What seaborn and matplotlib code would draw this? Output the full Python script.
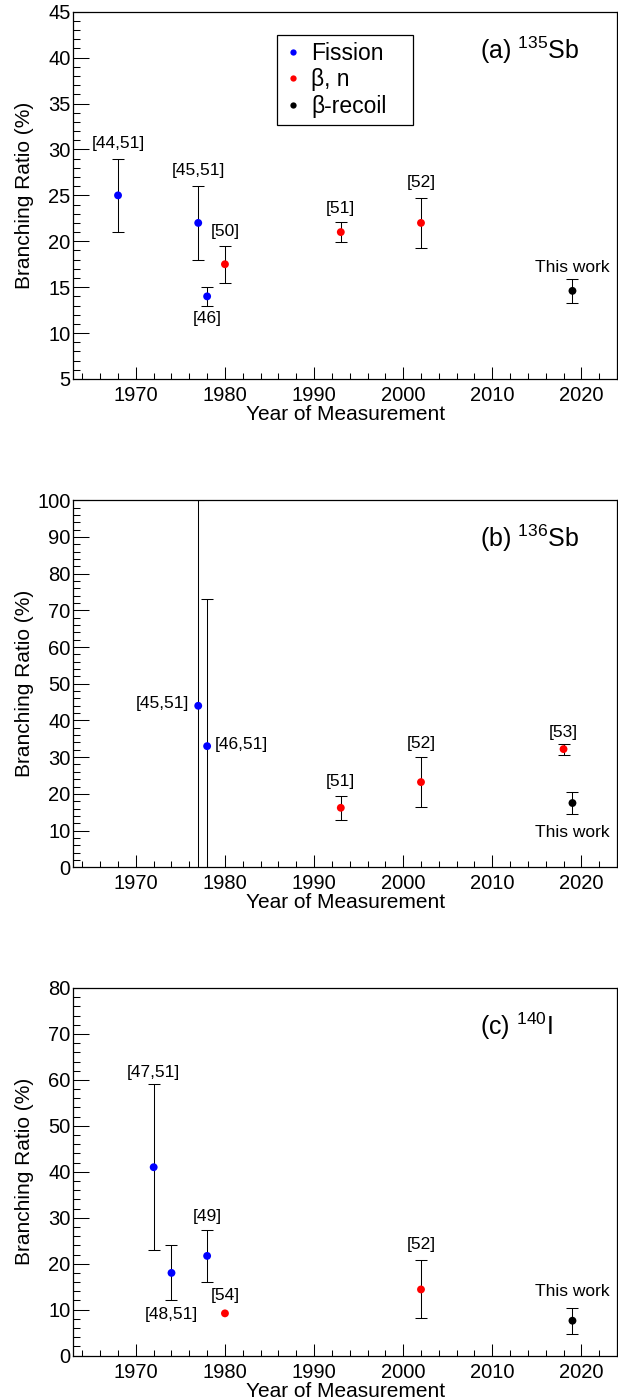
import matplotlib
matplotlib.use("Agg")
import pandas as pd
import matplotlib.pyplot as plt
from matplotlib.ticker import MultipleLocator
import seaborn as sns

sns.set_style("ticks")
plt.rcParams['font.family'] = ['Liberation Sans', 'DejaVu Sans']
plt.rcParams['mathtext.fontset'] = 'custom'
plt.rcParams['mathtext.rm'] = 'Liberation Sans'
plt.rcParams['mathtext.it'] = 'Liberation Sans:italic'
plt.rcParams['font.size'] = 15
for k in ['text.color', 'axes.labelcolor', 'xtick.color', 'ytick.color', 'axes.edgecolor']:
    plt.rcParams[k] = 'black'

methods = ["Fission", "β, n", "β-recoil"]
palette = {"Fission": "#0000ff", "β, n": "#ff0000", "β-recoil": "#000000"}

# (a) 135Sb
sb135_year = [1968, 1977, 1978, 1980, 1993, 2002, 2019]
sb135_br = [25, 22, 14, 17.5, 21, 22, 14.6]
sb135_err = [4, 4, 1, 2, 1.1, 2.7, 1.3]
sb135_method = ["Fission", "Fission", "Fission", "β, n", "β, n", "β, n", "β-recoil"]
sb135_ref = ["[44,51]", "[45,51]", "[46]", "[50]", "[51]", "[52]", "This work"]

# (b) 136Sb
sb136_year = [1977, 1978, 1993, 2002, 2018, 2019]
sb136_br = [44, 33, 16.2, 23.2, 32.2, 17.5]
sb136_err = [56, 40, 3.2, 6.8, 1.5, 2.9]
sb136_method = ["Fission", "Fission", "β, n", "β, n", "β, n", "β-recoil"]
sb136_ref = ["[45,51]", "[46,51]", "[51]", "[52]", "[53]", "This work"]

# (c) 140I
i140_year = [1972, 1974, 1978, 1980, 2002, 2019]
i140_br = [41, 18, 21.7, 9.2, 14.4, 7.6]
i140_err = [18, 6, 5.6, 0, 6.3, 2.8]
i140_method = ["Fission", "Fission", "Fission", "β, n", "β, n", "β-recoil"]
i140_ref = ["[47,51]", "[48,51]", "[49]", "[54]", "[52]", "This work"]

# label offsets in points (dx, dy) from the error bar end
sb135_off = [(0, 11), (0, 11), (0, -9), (0, 10.5), (0, 9.6), (0, 11.3), (0, 8)]
sb136_off = [(-6.5, 1.5), (5.8, 1.5), (0, 10.8), (0, 9.6), (0, 8.1), (0, -13.5)]
i140_off = [(0, 8.6), (0, -9.9), (0, 9.9), (0, 12.5), (0, 11.5), (0, 11.5)]

panels = [
    ("(a) $^{135}$Sb", sb135_year, sb135_br, sb135_err, sb135_method, sb135_ref, sb135_off,
     (5, 45), 5, 1, [0.1189, 0.7291, 0.8795, 0.2625]),
    ("(b) $^{136}$Sb", sb136_year, sb136_br, sb136_err, sb136_method, sb136_ref, sb136_off,
     (0, 100), 10, 2, [0.1189, 0.3801, 0.8795, 0.2623]),
    ("(c) $^{140}$I", i140_year, i140_br, i140_err, i140_method, i140_ref, i140_off,
     (0, 80), 10, 2, [0.1189, 0.0310, 0.8795, 0.2628]),
]

fig = plt.figure(figsize=(6.18, 13.99), dpi=100)

for i, (title, year, br, err, method, ref, off, ylim, ymaj, ymin, pos) in enumerate(panels):
    ax = fig.add_axes(pos)
    df = pd.DataFrame({"year": year, "br": br, "err": err, "method": method, "ref": ref})

    has_err = df["err"] > 0
    ax.errorbar(df.loc[has_err, "year"], df.loc[has_err, "br"], yerr=df.loc[has_err, "err"],
                fmt="none", ecolor="black", elinewidth=0.75, capsize=4, capthick=0.75, zorder=2)
    sns.scatterplot(data=df, x="year", y="br", hue="method", hue_order=methods,
                    palette=palette, s=32, linewidth=0, zorder=3,
                    legend=(i == 0), ax=ax)

    for (_, r), (dx, dy) in zip(df.iterrows(), off):
        if dx == 0:
            yref = r["br"] + r["err"] if dy > 0 else r["br"] - r["err"]
            ha = "center"
        else:
            yref = r["br"]
            ha = "right" if dx < 0 else "left"
        ax.annotate(r["ref"], (r["year"], yref), xytext=(dx, dy), textcoords="offset points",
                    ha=ha, va="center", fontsize=12.5)

    ax.text(0.748, 0.896, title, transform=ax.transAxes, ha="left", va="center", fontsize=18)

    ax.set_xlim(1963, 2024)
    ax.set_ylim(*ylim)
    ax.xaxis.set_major_locator(MultipleLocator(10))
    ax.xaxis.set_minor_locator(MultipleLocator(2))
    ax.yaxis.set_major_locator(MultipleLocator(ymaj))
    ax.yaxis.set_minor_locator(MultipleLocator(ymin))
    ax.tick_params(axis="y", which="major", direction="in", length=11.5, width=0.75,
                   left=True, right=False, pad=2, labelsize=14.5)
    ax.tick_params(axis="y", which="minor", direction="in", length=5.3, width=0.75,
                   left=True, right=False)
    ax.tick_params(axis="x", which="major", direction="in", length=8.4, width=0.75,
                   bottom=True, top=False, pad=5, labelsize=14.5)
    ax.tick_params(axis="x", which="minor", direction="in", length=4.6, width=0.75,
                   bottom=True, top=False)
    for s in ax.spines.values():
        s.set_linewidth(0.9)
        s.set_color("black")

    ax.set_xlabel("Year of Measurement", fontsize=15)
    ax.set_ylabel("Branching Ratio (%)", fontsize=15)
    ax.xaxis.set_label_coords(0.5, -0.071)
    ax.yaxis.set_label_coords(-0.0734, 0.5)

    if i == 0:
        handles, labels = ax.get_legend_handles_labels()
        ax.legend(handles, labels, loc="upper left",
                  bbox_to_anchor=(0.3744, 0.6861, 0.2502, 0.2505), mode="expand",
                  frameon=True, fancybox=False, edgecolor="black", framealpha=1,
                  fontsize=16.5, borderpad=0.3, handlelength=0.8, handletextpad=0.38,
                  labelspacing=0.15, borderaxespad=0, markerscale=0.8)
        ax.get_legend().get_frame().set_linewidth(0.9)

fig.savefig("out.png", dpi=100)
